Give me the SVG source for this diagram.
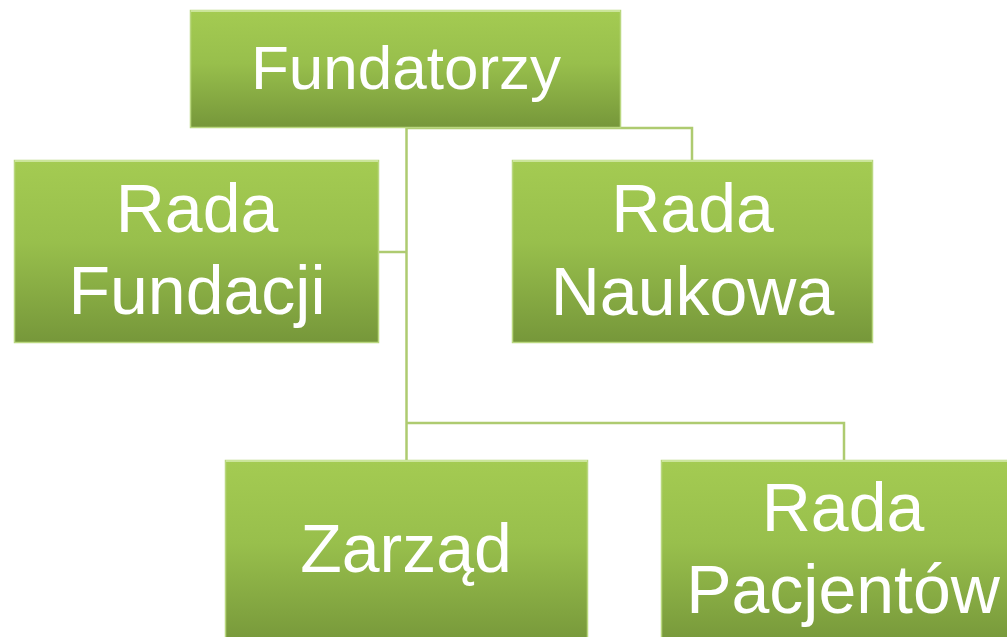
<svg xmlns="http://www.w3.org/2000/svg" width="1007" height="637" viewBox="0 0 1007 637">
<defs>
<linearGradient id="g" x1="0" y1="0" x2="0" y2="1">
<stop offset="0" stop-color="#a4cb52"/>
<stop offset="0.45" stop-color="#98bf4c"/>
<stop offset="1" stop-color="#76973a"/>
</linearGradient>
<style>
.box{fill:url(#g);stroke:#b9d77f;stroke-width:1.5}
.hl{stroke:#cbe59a;stroke-width:2}
.t{font-family:"Liberation Sans",Arial,sans-serif;fill:#ffffff;text-anchor:middle}
.conn{fill:none;stroke:#aecb70;stroke-width:2.5}
</style>
</defs>
<rect width="1007" height="637" fill="#ffffff"/>
<g id="connectors">
<path class="conn" d="M406.5,128 V460"/>
<path class="conn" d="M379,252 H406.5"/>
<path class="conn" d="M406.5,128 H692 V160"/>
<path class="conn" d="M406.5,423 H844 V460"/>
</g>
<g id="fundatorzy">
<rect class="box" x="190.5" y="10.5" width="430" height="117"/>
<line class="hl" x1="191" y1="11" x2="620" y2="11"/>
<text class="t" x="406" y="89" font-size="62">Fundatorzy</text>
</g>
<g id="rada-fundacji">
<rect class="box" x="14.5" y="160.5" width="364" height="182"/>
<line class="hl" x1="15" y1="161" x2="378" y2="161"/>
<text class="t" x="197" y="232" font-size="68">Rada</text>
<text class="t" x="197" y="314" font-size="68">Fundacji</text>
</g>
<g id="rada-naukowa">
<rect class="box" x="512.5" y="160.5" width="360" height="182"/>
<line class="hl" x1="513" y1="161" x2="872" y2="161"/>
<text class="t" x="692.5" y="232" font-size="68">Rada</text>
<text class="t" x="692.5" y="315" font-size="68">Naukowa</text>
</g>
<g id="zarzad">
<rect class="box" x="225.5" y="460.5" width="362" height="185"/>
<line class="hl" x1="226" y1="461" x2="587" y2="461"/>
<text class="t" x="406" y="572" font-size="68">Zarząd</text>
</g>
<g id="rada-pacjentow">
<rect class="box" x="661.5" y="460.5" width="362" height="185"/>
<line class="hl" x1="662" y1="461" x2="1023" y2="461"/>
<text class="t" x="843" y="531" font-size="68">Rada</text>
<text class="t" x="843" y="613" font-size="68">Pacjentów</text>
</g>
</svg>
